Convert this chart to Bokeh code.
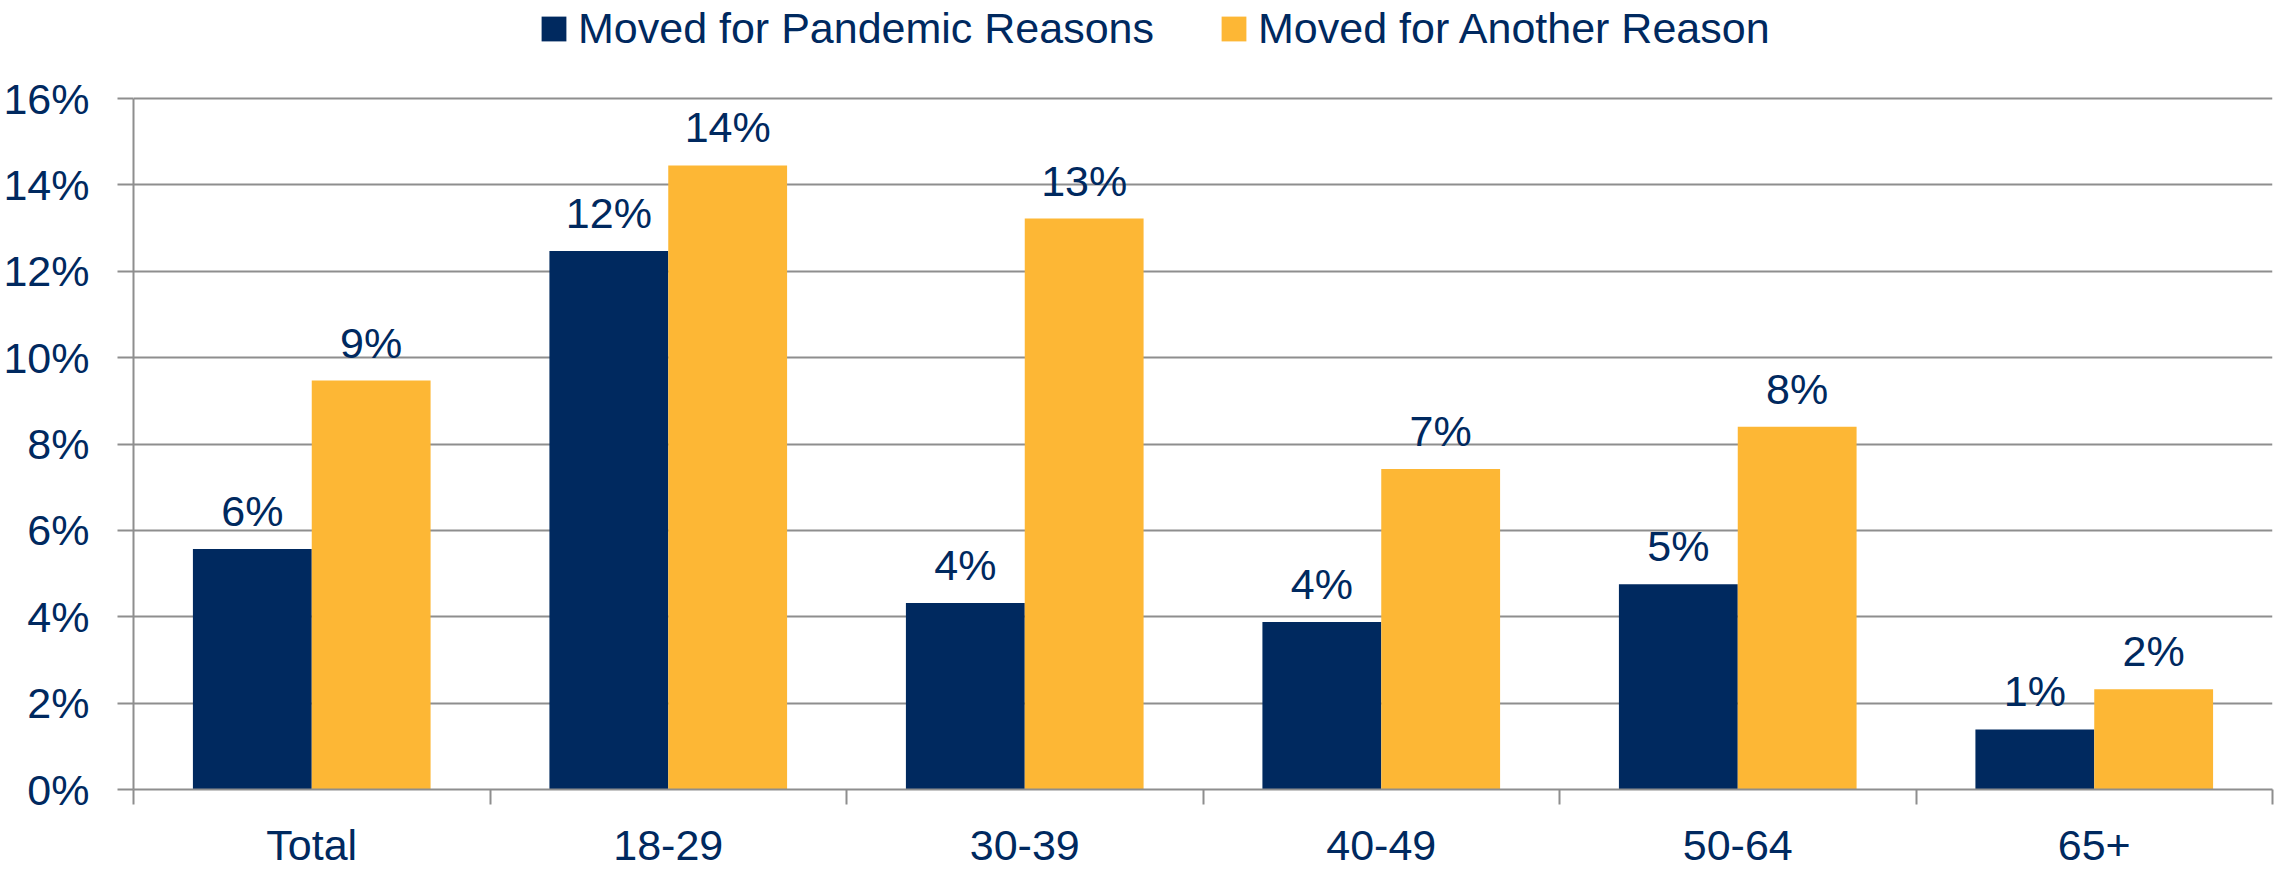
from bokeh.plotting import figure
from bokeh.models import (ColumnDataSource, Range1d, FixedTicker, PrintfTickFormatter,
                          Legend, LegendItem)
from bokeh.transform import dodge
from bokeh.core.properties import value
from bokeh.embed import file_html
from bokeh.resources import INLINE

# ---- data ----
categories = ["Total", "18-29", "30-39", "40-49", "50-64", "65+"]
pandemic = [5.57, 12.47, 4.32, 3.88, 4.75, 1.39]
another = [9.47, 14.45, 13.22, 7.42, 8.40, 2.32]
pandemic_labels = ["6%", "12%", "4%", "4%", "5%", "1%"]
another_labels = ["9%", "14%", "13%", "7%", "8%", "2%"]
series_names = ["Moved for Pandemic Reasons", "Moved for Another Reason"]
y_ticks = [0, 2, 4, 6, 8, 10, 12, 14, 16]

NAVY = "#00295F"
GOLD = "#FDB735"
GRAY = "#8E8E8E"
FNAME = "Liberation Sans"
FONT = value(FNAME)
FS = "43px"

# layout (pixels): frame spans the full height so the legend can sit above the 16% line
W, H = 2278, 871
LEFT, RIGHT, BOTTOM = 132, 6, 82
TOP_16 = 98  # pixel row of the 16% line
y_top = y_ticks[-1] * (H - BOTTOM) / (H - BOTTOM - TOP_16)

centers = [i + 0.5 for i in range(len(categories))]
bounds = [i for i in range(len(categories) + 1)]

src = ColumnDataSource(dict(x=centers, cat=categories, pandemic=pandemic, another=another,
                            pl=pandemic_labels, al=another_labels))

p = figure(width=W, height=H, output_backend="svg", toolbar_location=None,
           x_range=Range1d(0, len(categories)), y_range=Range1d(0, y_top),
           min_border_left=LEFT, min_border_right=RIGHT, min_border_top=0,
           min_border_bottom=BOTTOM)
p.outline_line_color = None
p.background_fill_color = "white"
p.border_fill_color = "white"

bw = 1 / 3
r1 = p.vbar(x=dodge("x", -bw / 2, range=p.x_range), top="pandemic", width=bw, bottom=0,
            source=src, fill_color=NAVY, line_color=None)
r2 = p.vbar(x=dodge("x", bw / 2, range=p.x_range), top="another", width=bw, bottom=0,
            source=src, fill_color=GOLD, line_color=None)

for col, off in (("pl", -bw / 2), ("al", bw / 2)):
    top = "pandemic" if col == "pl" else "another"
    p.text(x=dodge("x", off, range=p.x_range), y=top, text=col, source=src,
           text_align="center", text_baseline="alphabetic", y_offset=-38,
           text_font=FONT, text_font_size=FS, text_color=NAVY)

# grid
p.xgrid.grid_line_color = None
p.ygrid.grid_line_color = GRAY
p.ygrid.grid_line_width = 2
p.ygrid.ticker = FixedTicker(ticks=y_ticks)

# y axis
ya = p.yaxis[0]
ya.ticker = FixedTicker(ticks=y_ticks)
ya.bounds = (y_ticks[0], y_ticks[-1])
ya.formatter = PrintfTickFormatter(format="%d%%")
ya.axis_line_color = GRAY
ya.axis_line_width = 2
ya.major_tick_line_color = GRAY
ya.major_tick_line_width = 2
ya.major_tick_out = 16
ya.major_tick_in = 0
ya.minor_tick_line_color = None
ya.major_label_standoff = 28
ya.major_label_text_font = FNAME
ya.major_label_text_font_size = FS
ya.major_label_text_color = NAVY

# x axis
xa = p.xaxis[0]
xa.ticker = FixedTicker(ticks=centers, minor_ticks=bounds)
xa.major_label_overrides = {c: lab for c, lab in zip(centers, categories)}
xa.axis_line_color = GRAY
xa.axis_line_width = 2
xa.major_tick_line_color = None
xa.major_tick_out = 0
xa.major_tick_in = 0
xa.minor_tick_line_color = GRAY
xa.minor_tick_line_width = 2
xa.minor_tick_out = 15
xa.minor_tick_in = 0
xa.major_label_standoff = 16
xa.major_label_text_font = FNAME
xa.major_label_text_font_size = FS
xa.major_label_text_color = NAVY

legend = Legend(items=[LegendItem(label=series_names[0], renderers=[r1]),
                       LegendItem(label=series_names[1], renderers=[r2])],
                location=(405, H - BOTTOM - 53), orientation="horizontal",
                glyph_width=31, glyph_height=31, label_standoff=9, spacing=64,
                padding=0, margin=0, border_line_color=None, background_fill_alpha=0,
                label_text_font=FNAME, label_text_font_size=FS,
                label_text_color=NAVY)
p.add_layout(legend)

open("out.html", "w").write(file_html(p, INLINE))
